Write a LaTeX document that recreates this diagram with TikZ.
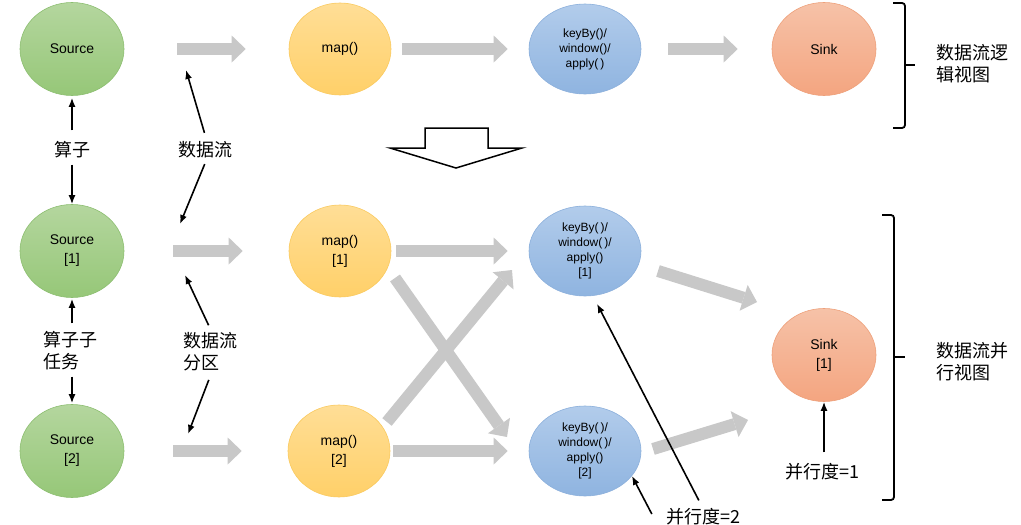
\documentclass[tikz,border=0pt]{standalone}
\usepackage{fontspec}
\setmainfont{Liberation Sans}
\newfontfamily\cjk{Noto Sans CJK SC}
\usetikzlibrary{arrows.meta,shapes.geometric}
\definecolor{greentop}{RGB}{180,214,158}
\definecolor{greenbot}{RGB}{150,199,120}
\definecolor{greenline}{RGB}{140,190,112}
\definecolor{yellowtop}{RGB}{255,222,150}
\definecolor{yellowbot}{RGB}{255,208,105}
\definecolor{yellowline}{RGB}{250,202,95}
\definecolor{bluetop}{RGB}{178,204,235}
\definecolor{bluebot}{RGB}{143,180,224}
\definecolor{blueline}{RGB}{140,176,220}
\definecolor{redtop}{RGB}{246,194,168}
\definecolor{redbot}{RGB}{244,165,128}
\definecolor{redline}{RGB}{238,160,122}
\definecolor{flowgray}{RGB}{200,200,200}
\tikzset{op/.style={ellipse, inner sep=0pt, align=center, line width=0.6pt, font=\fontsize{14}{19}\selectfont}, gop/.style={op, draw=greenline, top color=greentop, bottom color=greenbot, minimum width=104pt, minimum height=93pt}, yop/.style={op, draw=yellowline, top color=yellowtop, bottom color=yellowbot, minimum width=102pt, minimum height=92pt}, bop/.style={op, draw=blueline, top color=bluetop, bottom color=bluebot, minimum width=112pt, minimum height=90pt, font=\fontsize{12}{15}\selectfont}, rop/.style={op, draw=redline, top color=redtop, bottom color=redbot, minimum width=104pt, minimum height=93pt}, lbl/.style={font=\cjk\fontsize{18}{22}\selectfont, align=left, inner sep=0pt}, flow/.style={draw=flowgray, line width=12pt, -{Triangle[width=27pt,length=14pt,line width=0pt]}}, ptr/.style={-{Latex[length=9pt,width=7pt]}, line width=1.6pt}, brace/.style={line width=1.8pt, rounded corners=3pt}}

\begin{document}
\begin{tikzpicture}[x=1pt,y=-1pt]
\fill[white] (0,0) rectangle (1021,525);
\useasboundingbox (0,0) rectangle (1021,525);
% logical view
\node[gop] (src) at (72,49) {Source};
\node[yop] (map) at (340,49) {map()};
\node[bop] (key) at (585,49) {keyBy()/\\window()/\\apply(\,)};
\node[rop] (sink) at (824,49) {Sink};
\node[lbl] (op) at (72,150) {算子};
\node[lbl] (df) at (205,150) {数据流};
\node[lbl] (lview) at (972,64) {数据流逻\\辑视图};
% parallel view
\node[gop] (src1) at (72,251) {Source\\{[1]}};
\node[gop] (src2) at (72,451) {Source\\{[2]}};
\node[yop] (map1) at (340,251) {map()\\{[1]}};
\node[yop] (map2) at (339,451) {map()\\{[2]}};
\node[bop] (key1) at (585,251) {keyBy(\,)/\\window(\,)/\\apply()\\{[1]}};
\node[bop] (key2) at (585,451) {keyBy(\,)/\\window(\,)/\\apply()\\{[2]}};
\node[rop] (sink1) at (824,355) {Sink\\{[1]}};
\node[lbl] (sub) at (70,351) {算子子\\任务};
\node[lbl] (dfp) at (210,352) {数据流\\分区};
\node[lbl] (par1) at (822,472) {并行度=1};
\node[lbl] (par2) at (703,517) {并行度=2};
\node[lbl] (pview) at (972,362) {数据流并\\行视图};
\coordinate (fa) at (186,70); \coordinate (fb) at (180,224);
\coordinate (fc) at (185,275); \coordinate (fd) at (188,434);
% data flow
\draw[flow, shorten <=53pt, shorten >=43pt] (src) -- (map); \draw[flow, shorten <=11pt, shorten >=21pt] (map) -- (key); \draw[flow, shorten <=27pt, shorten >=34pt] (key) -- (sink);
\draw[flow, shorten <=49pt, shorten >=46pt] (src1) -- (map1); \draw[flow, shorten <=49pt, shorten >=46pt] (src2) -- (map2);
\draw[flow, shorten <=5pt, shorten >=21pt] (map1) -- (key1); \draw[flow, shorten <=3pt, shorten >=21pt] (map2) -- (key2);
\draw[flow] ([shift={(55,27)}]map1.center) -- ([shift={(-78,-14)}]key2.center);
\draw[flow] ([shift={(48,-29)}]map2.center) -- ([shift={(-73,19)}]key1.center);
\draw[flow] ([shift={(73,20)}]key1.center) -- ([shift={(-67,-53)}]sink1.center);
\draw[flow] ([shift={(68,-2)}]key2.center) -- ([shift={(-76,65)}]sink1.center);
% pointers
\draw[ptr, shorten <=11pt, shorten >=2pt] (op) -- (src); \draw[ptr, shorten <=6pt] (op) -- (src1);
\draw[ptr, shorten <=9pt] ([xshift=2pt]df.north) -- (fa); \draw[ptr, shorten <=6pt] ([xshift=2pt]df.south) -- (fb);
\draw[ptr, shorten <=8pt, shorten >=1pt] (sub.north -| src1) -- (src1); \draw[ptr, shorten <=6pt, shorten >=1pt] (sub.south -| src2) -- (src2);
\draw[ptr, shorten <=8pt] ([xshift=2pt]dfp.north) -- (fc); \draw[ptr, shorten <=9pt] ([xshift=2pt]dfp.south) -- (fd);
\draw[ptr, shorten <=11pt] (par1.north -| sink1) -- (sink1);
\draw[ptr, shorten <=9pt, shorten >=9pt] (par2.north) -- (key1.-80); \draw[ptr] ([xshift=-14pt,yshift=3pt]par2.west) -- (key2.-28);
% views
\draw[line width=1.5pt] (425,128) -- (488,128) -- (488,148) -- (522,148) -- (456,168) -- (390,148) -- (425,148) -- cycle;
\draw[brace] (893,3) -- (905,3) -- (905,128) -- (893,128); \draw[line width=1.8pt] (905,65) -- (915,65);
\draw[brace] (882,215) -- (894,215) -- (894,500) -- (882,500); \draw[line width=1.8pt] (894,357) -- (905,357);
\end{tikzpicture}
\end{document}
